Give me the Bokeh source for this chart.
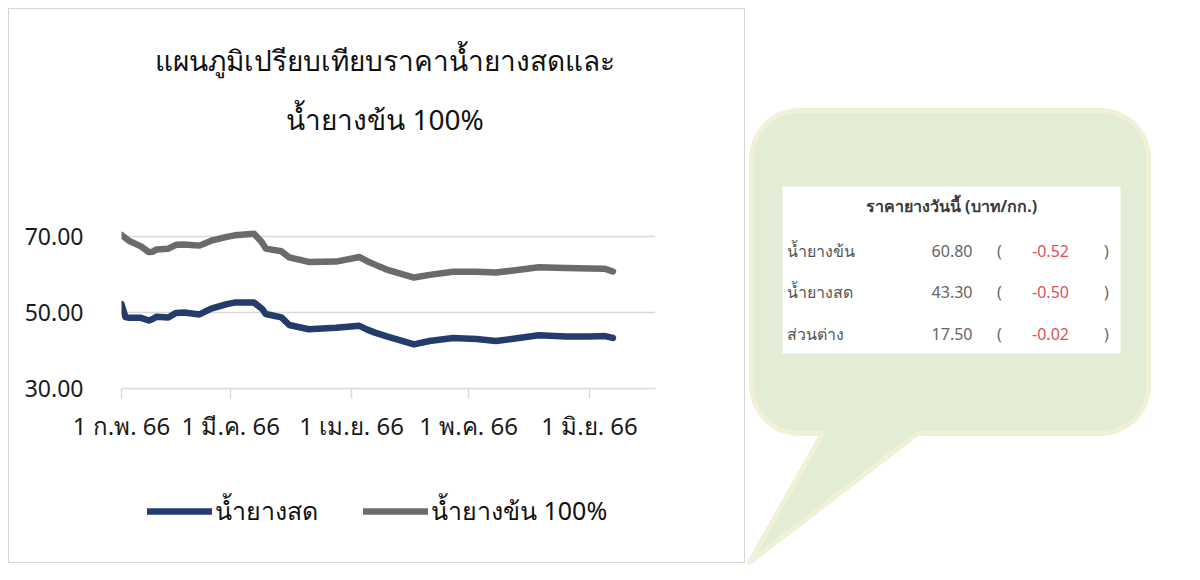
import numpy as np
import pandas as pd
from bokeh.plotting import figure
from bokeh.models import (Range1d, FixedTicker, NumeralTickFormatter,
                          Legend, LegendItem, ColumnDataSource)
from bokeh.layouts import row, column
from bokeh.core.properties import value
from bokeh.embed import file_html
from bokeh.resources import INLINE

# ---------------- data ----------------
dates = ["2023-02-01", "2023-02-02", "2023-02-03", "2023-02-06", "2023-02-08",
         "2023-02-09", "2023-02-10", "2023-02-13", "2023-02-15", "2023-02-17",
         "2023-02-21", "2023-02-24", "2023-02-28", "2023-03-02", "2023-03-07",
         "2023-03-09", "2023-03-10", "2023-03-14", "2023-03-16", "2023-03-21",
         "2023-03-28", "2023-04-03", "2023-04-05", "2023-04-07", "2023-04-10",
         "2023-04-17", "2023-04-21", "2023-04-27", "2023-05-03", "2023-05-08",
         "2023-05-12", "2023-05-19", "2023-05-26", "2023-06-01", "2023-06-05",
         "2023-06-07"]
fresh_latex = [52.2, 48.8, 48.6, 48.6, 47.9, 48.3, 48.9, 48.7, 49.9, 50.0,
               49.5, 51.0, 52.2, 52.6, 52.6, 51.0, 49.6, 48.7, 46.7, 45.6,
               46.0, 46.5, 45.5, 44.7, 43.7, 41.6, 42.5, 43.3, 43.0, 42.5,
               43.0, 44.0, 43.7, 43.7, 43.8, 43.3]
conc_latex = [70.4, 69.6, 68.8, 67.4, 65.9, 66.0, 66.6, 66.8, 67.8, 67.9,
              67.6, 68.9, 69.9, 70.3, 70.7, 68.5, 66.8, 66.1, 64.5, 63.3,
              63.4, 64.6, 63.5, 62.6, 61.3, 59.2, 59.9, 60.7, 60.7, 60.5,
              61.0, 61.9, 61.7, 61.6, 61.5, 60.8]
series_names = ["น้ำยางสด", "น้ำยางข้น 100%"]
month_ticks = ["2023-02-01", "2023-03-01", "2023-04-01", "2023-05-01", "2023-06-01"]
month_labels = ["1 ก.พ. 66", "1 มี.ค. 66", "1 เม.ย. 66", "1 พ.ค. 66", "1 มิ.ย. 66"]
y_ticks = [30, 50, 70]
title_lines = ["แผนภูมิเปรียบเทียบราคาน้ำยางสดและ", "น้ำยางข้น 100%"]
table_title = "ราคายางวันนี้ (บาท/กก.)"
table_names = ["น้ำยางข้น", "น้ำยางสด", "ส่วนต่าง"]
table_prices = [60.80, 43.30, 17.50]
table_changes = [-0.52, -0.50, -0.02]

# ---------------- styling / layout ----------------
FONT = "Noto Sans"
BLUE = "#233c6c"
GREY = "#6b6b6b"
W1 = 735                 # left canvases width (css border adds 3px, margin 8px)
H0, H1, H2 = 190, 268, 95  # title strip / chart / legend strip heights
W2, H = 438, 564         # bubble canvas
FL, FR, FT, FB = 112, 646, 18, 189      # chart frame edges in canvas px
PX_PER_DAY = 3.9
DAY = 86400000.0

def ms(d):
    return pd.Timestamp(d).value / 1e6

x_start = ms("2023-02-01")
x_end = x_start + (FR - FL) / PX_PER_DAY * DAY
y_lo = 30.0
y_hi = y_lo + (FB - FT) / 3.8

def blank(w, h):
    f = figure(width=w, height=h, x_range=Range1d(0, w), y_range=Range1d(h, 0),
               output_backend="svg", toolbar_location=None, min_border=0,
               x_axis_location=None, y_axis_location=None)
    f.frame_align = False
    f.grid.visible = False
    f.outline_line_color = None
    f.background_fill_color = "white"
    f.border_fill_color = "white"
    return f

# ---------------- title strip ----------------
tf = blank(W1, H0)
tf.text(x=[375.5, 375.5], y=[50.5, 109], text=title_lines,
        text_font=value(FONT), text_font_size="28px", text_align="center",
        text_baseline="middle", text_color="#111111")

# ---------------- chart ----------------
p = figure(width=W1, height=H1, x_axis_type="datetime",
           x_range=Range1d(x_start, x_end), y_range=Range1d(y_lo, y_hi),
           output_backend="svg", toolbar_location=None,
           min_border_left=FL, min_border_right=W1 - FR,
           min_border_top=FT, min_border_bottom=H1 - FB)
p.frame_align = False
p.outline_line_color = None
p.background_fill_color = "white"
p.border_fill_color = "white"

xs = [pd.Timestamp(d) for d in dates]
src = ColumnDataSource(dict(x=xs, fresh=fresh_latex, conc=conc_latex))
p.line("x", "fresh", source=src, line_width=6.5, line_color=BLUE,
       line_cap="round", line_join="round")
p.line("x", "conc", source=src, line_width=6.5, line_color=GREY,
       line_cap="round", line_join="round")

tick_ms = [ms(d) for d in month_ticks]
p.xaxis.ticker = FixedTicker(ticks=tick_ms)
p.xaxis.major_label_overrides = {t: l for t, l in zip(tick_ms, month_labels)}
p.xaxis.axis_line_color = "#d9d9d9"
p.xaxis.axis_line_width = 1.5
p.xaxis.major_tick_line_color = "#d9d9d9"
p.xaxis.major_tick_line_width = 1.5
p.xaxis.major_tick_in = 0
p.xaxis.major_tick_out = 10
p.xaxis.minor_tick_line_color = None
p.xaxis.major_label_standoff = 10
p.xaxis.major_label_text_font = FONT
p.xaxis.major_label_text_font_size = "24px"
p.xaxis.major_label_text_color = "#1a1a1a"
p.xgrid.grid_line_color = None

p.yaxis.ticker = FixedTicker(ticks=y_ticks)
p.yaxis.formatter = NumeralTickFormatter(format="0.00")
p.yaxis.axis_line_color = None
p.yaxis.major_tick_line_color = None
p.yaxis.minor_tick_line_color = None
p.yaxis.major_label_standoff = 32
p.yaxis.major_label_text_font = FONT
p.yaxis.major_label_text_font_size = "23px"
p.yaxis.major_label_text_color = "#1a1a1a"
p.ygrid.ticker = FixedTicker(ticks=y_ticks)
p.ygrid.grid_line_color = "#d9d9d9"
p.ygrid.grid_line_width = 1.5

# ---------------- legend strip ----------------
lf = blank(W1, H2)
# legend swatches only (kept outside the visible range)
k_fresh = lf.line(x=[-50, -40], y=[-50, -50], line_width=6.5, line_color=BLUE,
                  line_cap="round")
k_conc = lf.line(x=[-50, -40], y=[-60, -60], line_width=6.5, line_color=GREY,
                 line_cap="round")
legend = Legend(items=[LegendItem(label=series_names[0], renderers=[k_fresh]),
                       LegendItem(label=series_names[1], renderers=[k_conc])],
                orientation="horizontal", location=(138, 31),
                glyph_width=65, glyph_height=24, label_standoff=3, spacing=45,
                padding=0, margin=0, border_line_alpha=0,
                background_fill_alpha=0, label_text_font=FONT,
                label_text_font_size="25px", label_text_color="#111111",
                label_text_baseline="middle")
lf.add_layout(legend, "center")

left = column(tf, p, lf, margin=(8, 0, 0, 8),
              styles={"border": "1.5px solid #d6d6d6"})

# ---------------- speech bubble with today's prices ----------------
b = blank(W2, H)

def bubble_path(l, r, t, bt, rad, tail_l, tail_r, tip):
    px, py = [], []
    def arc(cx, cy, a0, a1):
        for a in np.linspace(a0, a1, 20):
            px.append(cx + rad * np.cos(a))
            py.append(cy + rad * np.sin(a))
    arc(l + rad, t + rad, np.pi, 1.5 * np.pi)
    arc(r - rad, t + rad, 1.5 * np.pi, 2 * np.pi)
    arc(r - rad, bt - rad, 0, 0.5 * np.pi)
    px += [tail_r, tip[0], tail_l]
    py += [bt, tip[1], bt]
    arc(l + rad, bt - rad, 0.5 * np.pi, np.pi)
    return px, py

bx, by = bubble_path(6, 403, 110, 433, 48, 77, 172, (4, 562))
b.patch(bx, by, fill_color="#e3edd6", line_color="#f0f1d6", line_width=5,
        line_join="round")

T_L, T_R, T_T, T_B = 37, 375, 186, 353
b.quad(left=[T_L], right=[T_R], top=[T_T], bottom=[T_B], fill_color="white",
       line_color=None)

b.text(x=[206], y=[205], text=[table_title], text_font=value(FONT),
       text_font_size="16px", text_font_style="bold", text_align="center",
       text_baseline="middle", text_color="#3a3a3a")

row_y = [T_T + 64 + 41.5 * i for i in range(len(table_names))]
tsrc = ColumnDataSource(dict(
    y=row_y, name=table_names,
    price=["%.2f" % v for v in table_prices],
    chg=["%.2f" % v for v in table_changes],
    lp=["("] * 3, rp=[")"] * 3))
common = dict(y="y", source=tsrc, text_font=value(FONT), text_font_size="16px",
              text_baseline="middle")
b.text(x=41, text="name", text_align="left", text_color="#555555", **common)
b.text(x=227, text="price", text_align="right", text_color="#666666", **common)
b.text(x=254, text="lp", text_align="center", text_color="#666666", **common)
b.text(x=305, text="chg", text_align="center", text_color="#e0505a", **common)
b.text(x=361, text="rp", text_align="center", text_color="#666666", **common)

layout = row(left, b)
open("out.html", "w").write(file_html(layout, INLINE))
